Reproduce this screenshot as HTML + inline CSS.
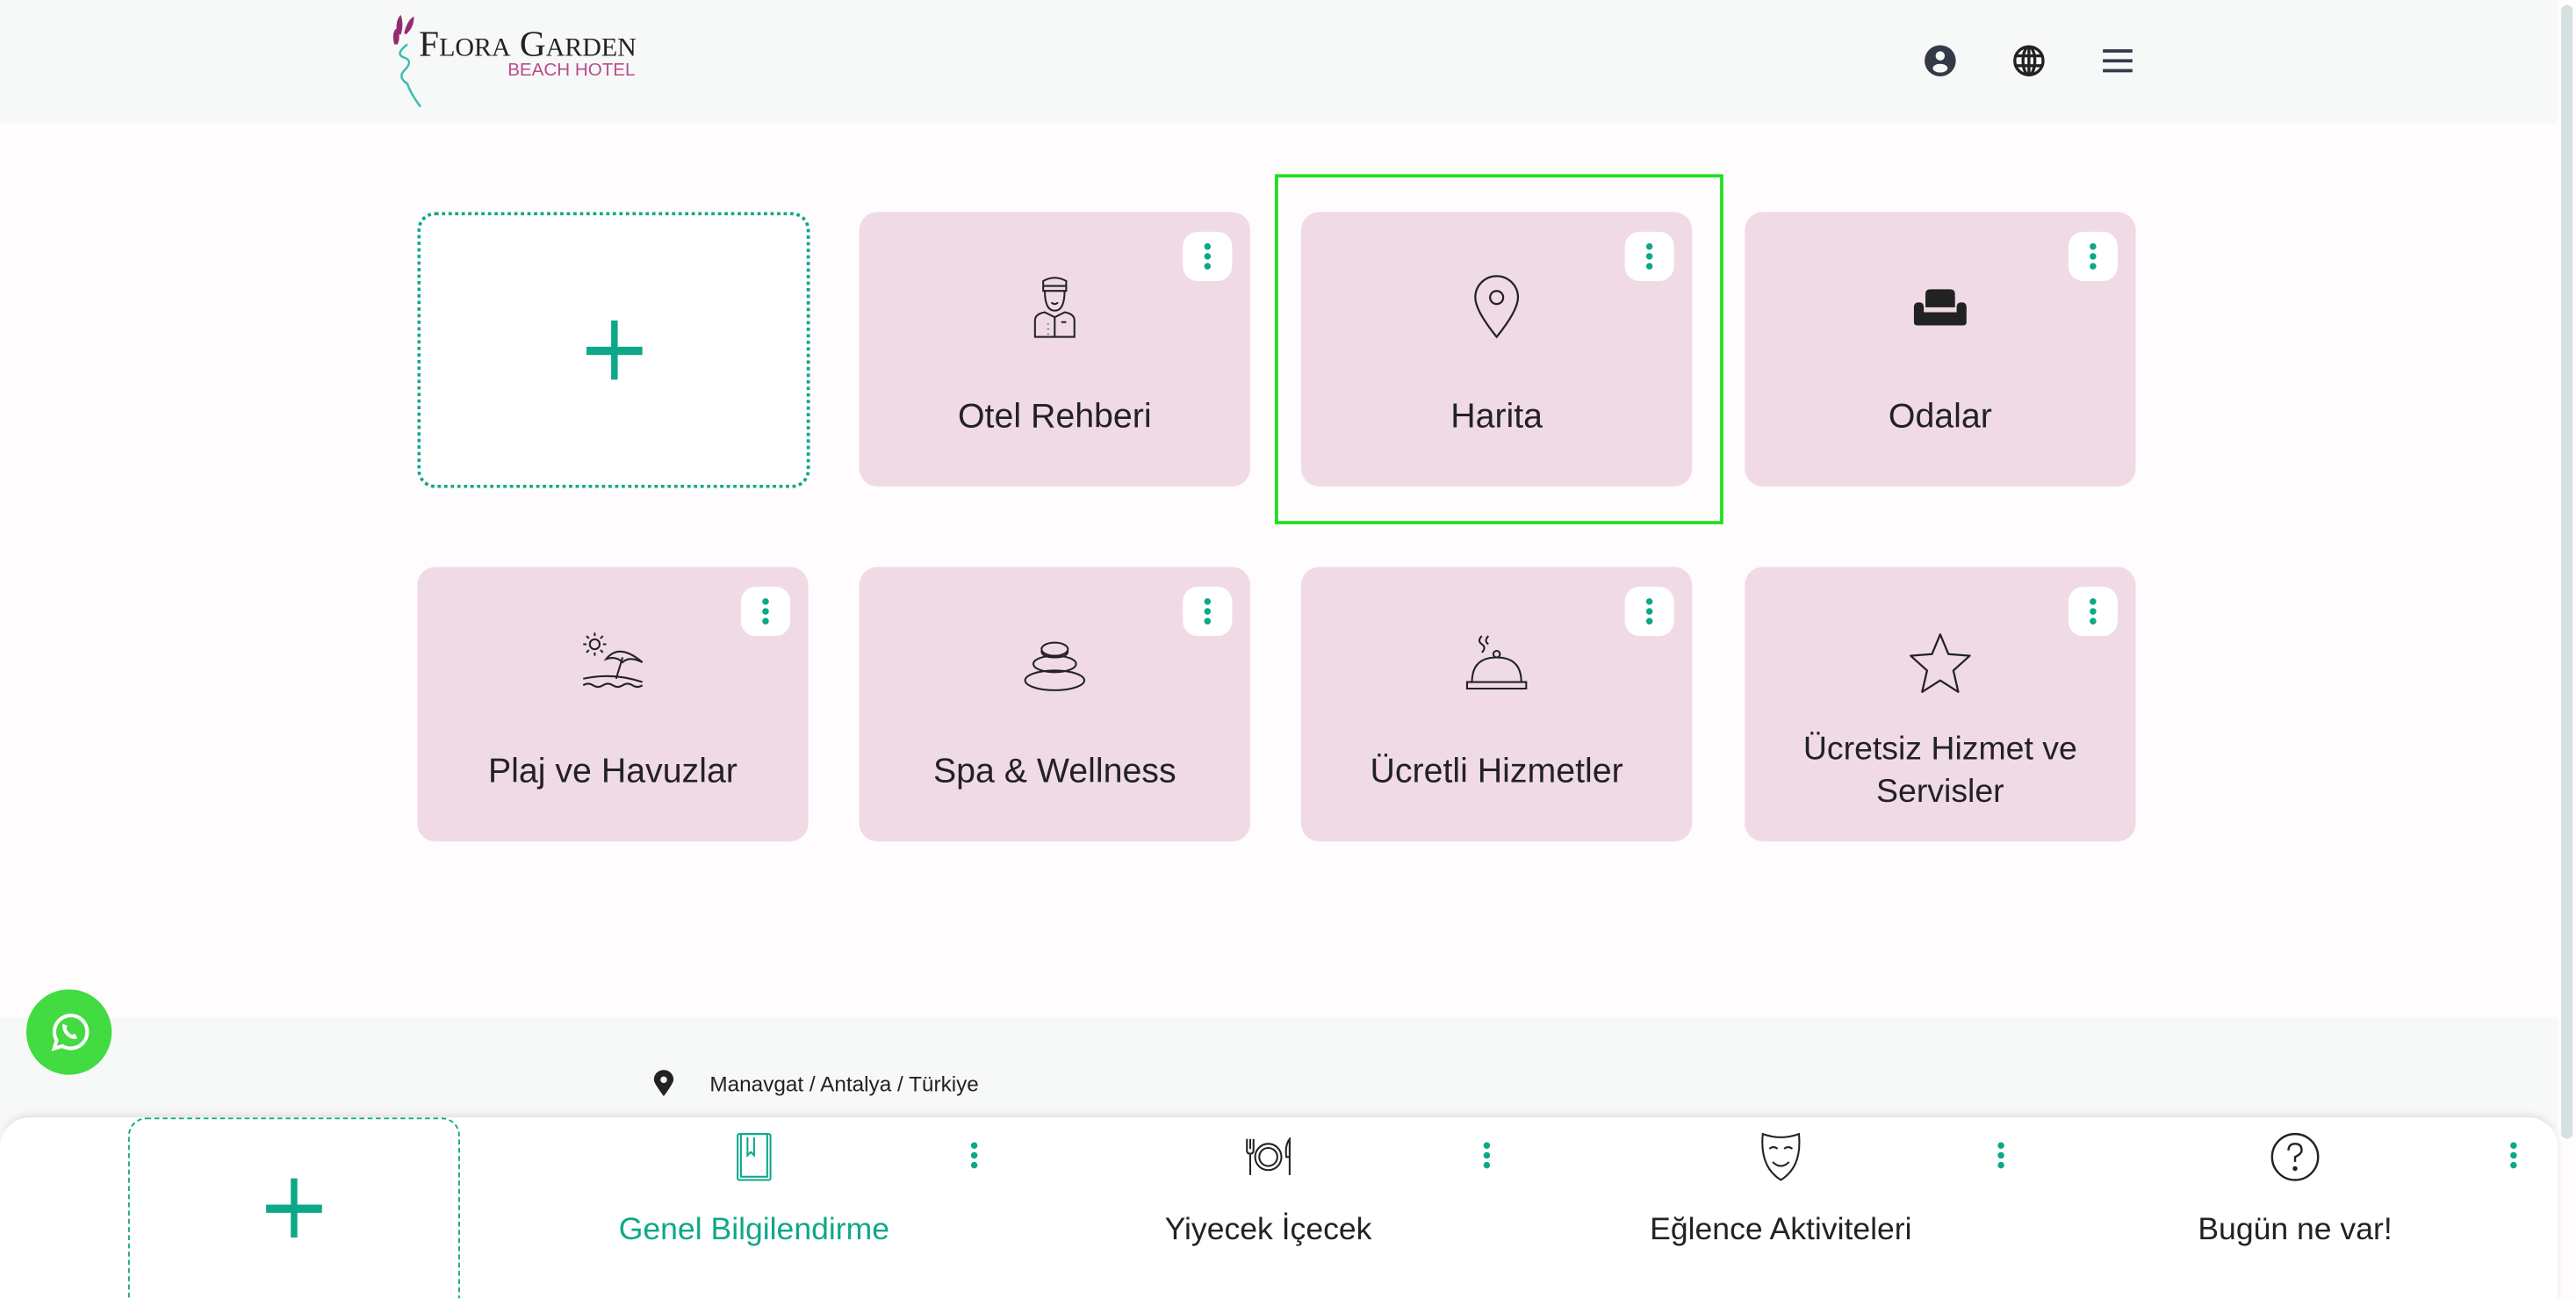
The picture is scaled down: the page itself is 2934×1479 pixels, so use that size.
<!DOCTYPE html>
<html><head><meta charset="utf-8">
<style>
html,body{margin:0;padding:0;width:2934px;height:1479px;overflow:hidden;background:#fff;}
#w{position:absolute;left:0;top:0;width:1568px;height:790.4px;transform:scale(1.87117);transform-origin:0 0;font-family:"Liberation Sans",sans-serif;background:#fffcfd;overflow:hidden;}
.a{position:absolute;}
.card{position:absolute;width:238px;height:167px;border-radius:11px;background:#f0dae6;}
.card .lbl{position:absolute;left:0;right:0;top:112px;text-align:center;font-size:21px;color:#222;line-height:26px;}
.card .ic{position:absolute;left:101px;top:38px;width:36px;height:40px;}
.dots{position:absolute;right:11px;top:12px;width:30px;height:30px;background:#fff;border-radius:9px;}
.dots i,.bd i{position:absolute;left:13px;width:4px;height:4px;border-radius:50%;background:#0da888;}
.bd{position:absolute;width:30px;height:24px;}
.add{position:absolute;border:2px dotted #0da888;border-radius:11px;background:#fff;box-sizing:border-box;}
.plus{position:absolute;left:50%;top:50%;}
.plus:before{content:"";position:absolute;left:-17px;top:-2.5px;width:34px;height:5px;background:#0da888;}
.plus:after{content:"";position:absolute;left:-2px;top:-18px;width:4px;height:36px;background:#0da888;}
</style></head><body><div id="w">
<div class="a" style="left:0;top:0;width:1557px;height:75px;background:#f7f8f8;"></div>
<div class="a" style="left:1559px;top:3px;width:7px;height:690px;background:#d6e0e1;border-radius:4px;"></div>
<svg class="a" style="left:236px;top:7px" width="40" height="60" viewBox="0 0 40 60">
<path d="M6 14 Q4 6 8 2 Q10 8 8 14Z M10 13 Q12 5 16 3 Q16 10 11 14Z M4 20 Q2 12 6 10 Q8 16 6 20Z" fill="#922c6f"/>
<path d="M12 20 Q4 26 10 28 Q16 30 10 36 Q6 40 12 44 Q14 50 20 58" stroke="#3cbcb0" stroke-width="1.3" fill="none"/>
</svg>
<div class="a" style="left:255px;top:14px;font-family:'Liberation Serif',serif;font-size:22px;color:#222;">F<span style="font-size:16px">LORA</span> G<span style="font-size:16px">ARDEN</span></div>
<div class="a" style="left:309px;top:37px;font-size:11px;color:#b94c8c;">BEACH HOTEL</div>
<svg class="a" style="left:1171px;top:27px" width="20" height="20" viewBox="0 0 20 20"><circle cx="10" cy="10" r="9.5" fill="#343a48"/><circle cx="10" cy="7" r="2.8" fill="#f7f8f8"/><ellipse cx="10" cy="14.5" rx="4.5" ry="2.6" fill="#f7f8f8"/></svg>
<svg class="a" style="left:1225px;top:27px" width="20" height="20" viewBox="0 0 20 20" fill="none" stroke="#222" stroke-width="1.8"><circle cx="10" cy="10" r="8.6"/><ellipse cx="10" cy="10" rx="3.6" ry="8.6"/><line x1="1.5" y1="7" x2="18.5" y2="7"/><line x1="1.5" y1="13" x2="18.5" y2="13"/><line x1="10" y1="1.5" x2="10" y2="18.5"/></svg>
<svg class="a" style="left:1279px;top:29px" width="20" height="16" viewBox="0 0 20 16"><rect x="1" y="1" width="18" height="2" fill="#343a48"/><rect x="1" y="7" width="18" height="2" fill="#343a48"/><rect x="1" y="13" width="18" height="2" fill="#343a48"/></svg>

<div class="add" style="left:254px;top:129px;width:239px;height:168px;"><div class="plus"></div></div>
<div class="card" style="left:523px;top:129px;"><div class="dots"><i style="top:7px"></i><i style="top:13px"></i><i style="top:19px"></i></div>
<svg class="ic" viewBox="0 0 36 40" fill="none" stroke="#222" stroke-width="1.1"><path d="M11 4 Q18 0 25 4 L25 10 L11 10Z M11 7 H25"/><path d="M12 10 Q12 22 18 22 Q24 22 24 10"/><path d="M16 17 Q18 19 20 17"/><path d="M6 38 V28 Q6 24 12 23 L18 26 L24 23 Q30 24 30 28 V38Z M18 26 V38 M22 29 h3 M14 30 v0.5 M14 33 v0.5 M14 36 v0.5"/></svg>
<div class="lbl">Otel Rehberi</div></div>
<div class="card" style="left:792px;top:129px;"><div class="dots"><i style="top:7px"></i><i style="top:13px"></i><i style="top:19px"></i></div>
<svg class="ic" viewBox="0 0 36 40" fill="none" stroke="#222" stroke-width="1.2"><path d="M18 38 Q5 22 5 14 A13 13 0 0 1 31 14 Q31 22 18 38Z"/><circle cx="18" cy="14" r="4"/></svg>
<div class="lbl">Harita</div></div>
<div class="card" style="left:1062px;top:129px;"><div class="dots"><i style="top:7px"></i><i style="top:13px"></i><i style="top:19px"></i></div>
<svg class="ic" viewBox="0 0 36 40"><path d="M9 12 Q9 9 12 9 H24 Q27 9 27 12 V20 H9Z" fill="#222"/><path d="M2 20 Q2 17 5 17 Q8 17 8 20 V23 H28 V20 Q28 17 31 17 Q34 17 34 20 V29 Q34 31 32 31 H4 Q2 31 2 29Z" fill="#222"/></svg>
<div class="lbl">Odalar</div></div>
<div class="a" style="left:775.5px;top:105.5px;width:269px;height:209px;border:2.5px solid #1fe01f;"></div>

<div class="card" style="left:254px;top:345px;"><div class="dots"><i style="top:7px"></i><i style="top:13px"></i><i style="top:19px"></i></div>
<svg class="ic" viewBox="0 0 40 40" style="left:99px;width:40px" fill="none" stroke="#222" stroke-width="1.1"><circle cx="9" cy="9" r="3"/><path d="M9 2v2 M9 14v2 M2 9h2 M14 9h2 M4 4l1.5 1.5 M12.5 12.5l1.5 1.5 M4 14l1.5-1.5 M12.5 5.5L14 4"/><path d="M16 18 Q24 8 38 20 Q30 16 26 20 Q22 16 16 18Z"/><path d="M26 17 L22 30"/><path d="M2 30 Q20 26 38 32 M2 34 q3 -2 6 0 t6 0 t6 0 t6 0 t6 0 t6 0"/></svg>
<div class="lbl">Plaj ve Havuzlar</div></div>
<div class="card" style="left:523px;top:345px;"><div class="dots"><i style="top:7px"></i><i style="top:13px"></i><i style="top:19px"></i></div>
<svg class="ic" viewBox="0 0 40 40" style="left:99px;width:40px" fill="none" stroke="#222" stroke-width="1.1"><ellipse cx="20" cy="12" rx="8" ry="4"/><ellipse cx="20" cy="21" rx="13" ry="5"/><ellipse cx="20" cy="31" rx="18" ry="6"/><path d="M12 13 Q12 17 20 17 Q28 17 28 13"/></svg>
<div class="lbl">Spa &amp; Wellness</div></div>
<div class="card" style="left:792px;top:345px;"><div class="dots"><i style="top:7px"></i><i style="top:13px"></i><i style="top:19px"></i></div>
<svg class="ic" viewBox="0 0 40 40" style="left:99px;width:40px" fill="none" stroke="#222" stroke-width="1.1"><path d="M11 4 q-3 3 0 5 t0 5 M15 4 q-3 3 0 5"/><circle cx="20" cy="15" r="2"/><path d="M5 32 Q5 17 20 17 Q35 17 35 32Z M2 32 H38 V36 H2Z"/></svg>
<div class="lbl">Ücretli Hizmetler</div></div>
<div class="card" style="left:1062px;top:345px;"><div class="dots"><i style="top:7px"></i><i style="top:13px"></i><i style="top:19px"></i></div>
<svg class="ic" viewBox="0 0 40 40" style="left:99px;width:40px" fill="none" stroke="#222" stroke-width="1.2"><path d="M20 3 L25 15 L38 16 L28 25 L31 38 L20 31 L9 38 L12 25 L2 16 L15 15Z" stroke-linejoin="round"/></svg>
<div class="lbl" style="top:98px;font-size:20px;">Ücretsiz Hizmet ve<br>Servisler</div></div>

<div class="a" style="left:0;top:619px;width:1557px;height:68px;background:#f7f8f8;"></div>
<svg class="a" style="left:398px;top:651px" width="12" height="16" viewBox="0 0 12 16"><path d="M6 16 Q0 8 0 6 A6 6 0 0 1 12 6 Q12 8 6 16Z" fill="#222"/><circle cx="6" cy="6" r="2" fill="#f7f8f8"/></svg>
<div class="a" style="left:432px;top:652px;font-size:13px;color:#222;">Manavgat / Antalya / Türkiye</div>
<div class="a" style="left:16px;top:602px;width:52px;height:52px;border-radius:50%;background:#42db42;"></div>
<svg class="a" style="left:29px;top:615px" width="26" height="26" viewBox="0 0 26 26" fill="none" stroke="#fff" stroke-width="2.2"><path d="M4 23 L5.5 18 A10 10 0 1 1 9 21.5Z"/><path d="M9.5 8.5 Q9 12 12 15 Q15 17.5 17.5 16.5 L16.5 14.5 L14.5 15 Q12 13.5 11 11 L11.5 9.5 Z" fill="#fff" stroke-width="0.8"/></svg>

<div class="a" style="left:0;top:680px;width:1557px;height:115px;background:#fff;border-radius:18px 18px 0 0;box-shadow:0 -2px 4px rgba(0,0,0,0.08);"></div>
<div class="add" style="left:78px;top:680px;width:202px;height:120px;border-style:dashed;border-width:1.5px;"><div class="plus" style="top:46%"></div></div>
<div class="a" style="left:349px;top:680px;width:220px;height:110px;">
<svg class="a" style="left:99px;top:9px" width="22" height="30" viewBox="0 0 22 30" fill="none" stroke="#0da888" stroke-width="1.1"><rect x="1" y="1" width="20" height="28" rx="1"/><rect x="3" y="1" width="16" height="26"/><path d="M7 3 V14 L9 12 L11 14 V3"/></svg>
<div class="a" style="left:0;right:0;top:58px;text-align:center;font-size:19px;color:#0da888;">Genel Bilgilendirme</div></div>
<div class="a" style="left:662px;top:680px;width:220px;height:110px;">
<svg class="a" style="left:95px;top:12px" width="30" height="24" viewBox="0 0 30 24" fill="none" stroke="#222" stroke-width="1.1"><path d="M2 1 V8 Q2 10 4 10 V23 M4 1 V7 M6 1 V8 Q6 10 4 10"/><circle cx="15" cy="12" r="8"/><circle cx="15" cy="12" r="5.5"/><path d="M28 23 V1 Q25 5 26 12 H28"/></svg>
<div class="a" style="left:0;right:0;top:58px;text-align:center;font-size:19px;color:#222;">Yiyecek İçecek</div></div>
<div class="a" style="left:974px;top:680px;width:220px;height:110px;">
<svg class="a" style="left:97px;top:8px" width="26" height="32" viewBox="0 0 26 32" fill="none" stroke="#222" stroke-width="1.1"><path d="M2 2 Q13 6 24 2 Q26 22 13 30 Q0 22 2 2Z"/><path d="M6 11 q2.5 -2 5 0 M15 11 q2.5 -2 5 0 M8 19 Q13 24 18 19"/></svg>
<div class="a" style="left:0;right:0;top:58px;text-align:center;font-size:19px;color:#222;">Eğlence Aktiviteleri</div></div>
<div class="a" style="left:1287px;top:680px;width:220px;height:110px;">
<svg class="a" style="left:95px;top:9px" width="30" height="30" viewBox="0 0 30 30" fill="none" stroke="#222" stroke-width="1.3"><circle cx="15" cy="15" r="14"/><path d="M11 11 Q11 7 15 7 Q19 7 19 11 Q19 13 15 15 V18"/><circle cx="15" cy="22" r="0.8" fill="#222"/></svg>
<div class="a" style="left:0;right:0;top:58px;text-align:center;font-size:19px;color:#222;">Bugün ne var!</div></div>
<div class="bd" style="left:578px;top:690px"><i style="top:5px"></i><i style="top:11px"></i><i style="top:17px"></i></div>
<div class="bd" style="left:890px;top:690px"><i style="top:5px"></i><i style="top:11px"></i><i style="top:17px"></i></div>
<div class="bd" style="left:1203px;top:690px"><i style="top:5px"></i><i style="top:11px"></i><i style="top:17px"></i></div>
<div class="bd" style="left:1515px;top:690px"><i style="top:5px"></i><i style="top:11px"></i><i style="top:17px"></i></div>
</div></body></html>
